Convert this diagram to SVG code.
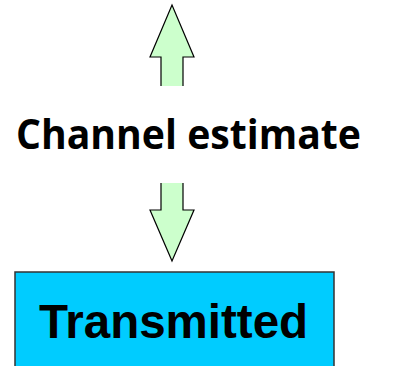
<svg xmlns="http://www.w3.org/2000/svg" width="407" height="366" viewBox="0 0 407 366">
<style>
.arrow{fill:#CCFFCC;stroke:#000;stroke-width:1.2;stroke-linejoin:miter}
.box{fill:#00CCFF;stroke:#333;stroke-width:1.5}
.lbl{font-family:"Open Sans","DejaVu Sans",sans-serif;font-weight:bold;fill:#000}
.big{font-family:"Liberation Sans",Arial,sans-serif;font-weight:bold;fill:#000}
</style>
<rect width="407" height="366" fill="#fff"/>
<g id="connectors">
<path class="arrow" d="M161,86 L161,57 L150,57 L172,5 L194,57 L183,57 L183,86"/>
<path class="arrow" d="M161,183 L161,210 L150,210 L172,261 L194,210 L183,210 L183,183"/>
</g>
<g id="channel-estimate">
<text class="lbl" x="16" y="149" font-size="41" textLength="345" lengthAdjust="spacingAndGlyphs">Channel estimate</text>
</g>
<g id="transmitted">
<rect class="box" x="15" y="272" width="319" height="110"/>
<text class="big" x="173.5" y="338" font-size="47.5" text-anchor="middle">Transmitted</text>
</g>
</svg>
